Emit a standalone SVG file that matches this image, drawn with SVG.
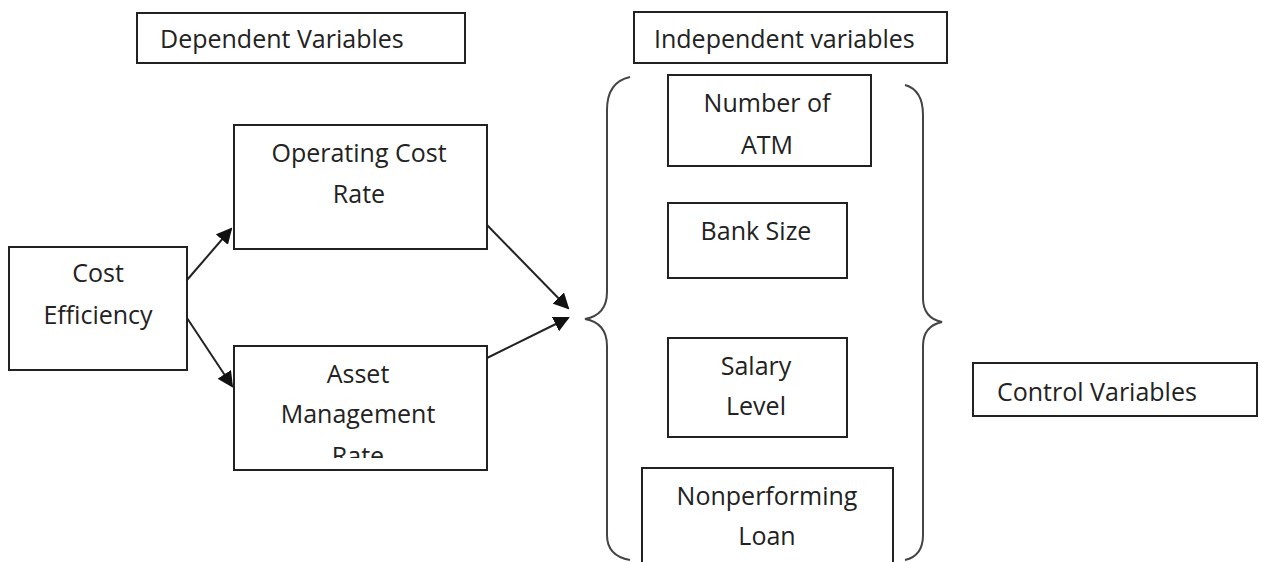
<svg xmlns="http://www.w3.org/2000/svg" width="1262" height="562" viewBox="0 0 1262 562">
<style>
.box{fill:#fff;stroke:#222;stroke-width:2}
.t{font-family:"Open Sans","Liberation Sans",sans-serif;font-size:25px;fill:#222}
.c{text-anchor:middle}
.conn{stroke:#222;stroke-width:2;fill:none;marker-end:url(#ah)}
.brace{stroke:#444;stroke-width:2;fill:none}
</style>
<defs>
<marker id="ah" markerWidth="8" markerHeight="8" refX="7" refY="4" orient="auto" markerUnits="strokeWidth">
<path d="M0,0 L8,4 L0,8 Z" fill="#111"/>
</marker>
<clipPath id="clipAsset"><rect x="234" y="346" width="253" height="112"/></clipPath>
</defs>
<rect width="1262" height="562" fill="#fff"/>
<g id="dependent-variables">
<rect class="box" x="137" y="13" width="328" height="50"/>
<text class="t" x="160" y="48">Dependent Variables</text>
</g>
<g id="independent-variables">
<rect class="box" x="634" y="12" width="313" height="51"/>
<text class="t" x="654" y="48">Independent variables</text>
</g>
<g id="operating-cost-rate">
<rect class="box" x="234" y="125" width="253" height="124"/>
<text class="t c" x="359" y="162">Operating Cost</text>
<text class="t c" x="359" y="203">Rate</text>
</g>
<g id="cost-efficiency">
<rect class="box" x="9" y="247" width="178" height="123"/>
<text class="t c" x="98" y="282">Cost</text>
<text class="t c" x="98" y="324">Efficiency</text>
</g>
<g id="asset-management-rate">
<rect class="box" x="234" y="346" width="253" height="124"/>
<g clip-path="url(#clipAsset)">
<text class="t c" x="358" y="383">Asset</text>
<text class="t c" x="358" y="423">Management</text>
<text class="t c" x="358" y="465">Rate</text>
</g>
</g>
<g id="number-of-atm">
<rect class="box" x="668" y="75" width="203" height="91"/>
<text class="t c" x="767" y="112">Number of</text>
<text class="t c" x="767" y="154">ATM</text>
</g>
<g id="bank-size">
<rect class="box" x="668" y="203" width="179" height="75"/>
<text class="t c" x="756" y="240">Bank Size</text>
</g>
<g id="salary-level">
<rect class="box" x="668" y="338" width="179" height="99"/>
<text class="t c" x="756" y="375">Salary</text>
<text class="t c" x="756" y="415">Level</text>
</g>
<g id="nonperforming-loan">
<rect class="box" x="642" y="468" width="251" height="100"/>
<text class="t c" x="767" y="505">Nonperforming</text>
<text class="t c" x="767" y="545">Loan</text>
</g>
<g id="control-variables">
<rect class="box" x="973" y="363" width="284" height="53"/>
<text class="t" x="997" y="401">Control Variables</text>
</g>
<g id="braces">
<path class="brace" d="M630,77 Q607,82 607,110 L607,292 Q607,315 585,319 Q607,323 607,346 L607,535 Q607,556 630,560"/>
<path class="brace" d="M905,85 Q923,90 923,115 L923,298 Q923,318 942,322 Q923,326 923,346 L923,535 Q923,556 905,560"/>
</g>
<g id="connectors">
<line class="conn" x1="187" y1="280" x2="231" y2="229"/>
<line class="conn" x1="187" y1="318" x2="232" y2="386"/>
<line class="conn" x1="487" y1="225" x2="568" y2="308"/>
<line class="conn" x1="487" y1="358" x2="568" y2="318"/>
</g>
</svg>
